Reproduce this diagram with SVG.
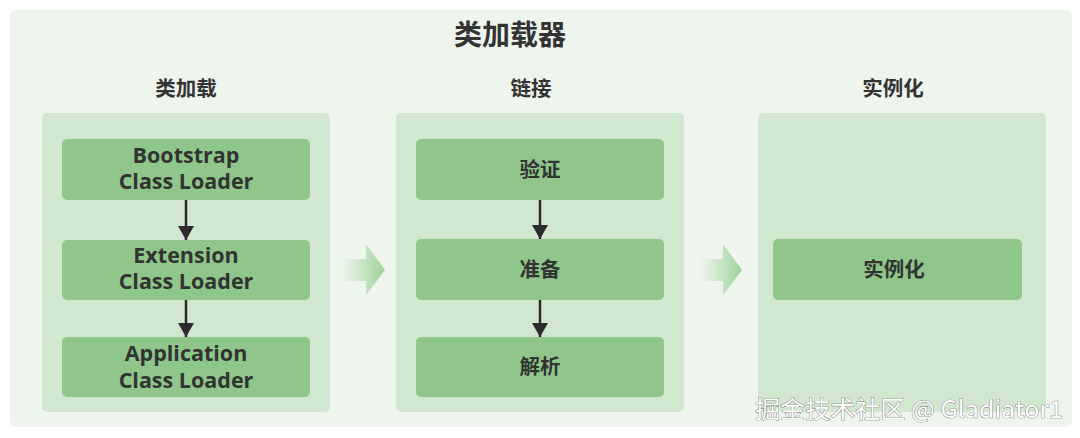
<svg xmlns="http://www.w3.org/2000/svg" width="1080" height="438" viewBox="0 0 1080 438">
  <defs>
    <linearGradient id="bigArrow" x1="0" y1="0" x2="1" y2="0">
      <stop offset="0" stop-color="#a8d5a4" stop-opacity="0"/>
      <stop offset="1" stop-color="#9fd09b" stop-opacity="1"/>
    </linearGradient>
    <marker id="ah" viewBox="0 0 14 16" refX="14" refY="8" markerWidth="14" markerHeight="16" markerUnits="userSpaceOnUse" orient="auto">
      <path d="M0,0 L14,8 L0,16 Z" fill="#2b2b2b"/>
    </marker>
    <style>
      .cjk { font-family: "Noto Sans CJK SC", "Noto Sans", sans-serif; font-weight: 700; fill: #333333; text-anchor: middle; }
      .lat { font-family: "Open Sans", "Noto Sans", "Noto Sans CJK SC", sans-serif; font-weight: 700; fill: #333333; text-anchor: middle; font-size: 21.5px; }
      .panel { fill: #d2e7cf; }
      .node { fill: #8fc78b; }
      .conn { stroke: #2b2b2b; stroke-width: 2.5; fill: none; }
      .wm { font-family: "Noto Sans CJK SC", "Noto Sans", sans-serif; font-size: 24px; fill: #ffffff; stroke: #5a5a5a; stroke-width: 0.7; paint-order: stroke; }
    </style>
  </defs>

  <rect x="0" y="0" width="1080" height="438" fill="#ffffff"/>
  <rect id="outer" x="10" y="10" width="1062" height="417" rx="6" fill="#edf5ec"/>

  <text class="cjk" x="510" y="45" font-size="28">类加载器</text>

  <g id="panel-load">
    <text class="cjk" x="186" y="96" font-size="20.5">类加载</text>
    <rect class="panel" x="42" y="113" width="288" height="299" rx="5"/>
  </g>
  <g id="panel-link">
    <text class="cjk" x="531" y="96" font-size="20.5">链接</text>
    <rect class="panel" x="396" y="113" width="288" height="299" rx="5"/>
  </g>
  <g id="panel-init">
    <text class="cjk" x="893" y="96" font-size="20.5">实例化</text>
    <rect class="panel" x="758" y="113" width="288" height="299" rx="5"/>
  </g>

  <g id="node-bootstrap">
    <rect class="node" x="62" y="139" width="248" height="61" rx="5"/>
    <text class="lat" x="186" y="163">Bootstrap</text>
    <text class="lat" x="186" y="189">Class Loader</text>
  </g>
  <g id="node-extension">
    <rect class="node" x="62" y="240" width="248" height="60" rx="5"/>
    <text class="lat" x="186" y="263">Extension</text>
    <text class="lat" x="186" y="289">Class Loader</text>
  </g>
  <g id="node-application">
    <rect class="node" x="62" y="337" width="248" height="60" rx="5"/>
    <text class="lat" x="186" y="361">Application</text>
    <text class="lat" x="186" y="388">Class Loader</text>
  </g>

  <g id="node-verify">
    <rect class="node" x="416" y="139" width="248" height="61" rx="5"/>
    <text class="cjk" x="540" y="177" font-size="20.5">验证</text>
  </g>
  <g id="node-prepare">
    <rect class="node" x="416" y="239" width="248" height="61" rx="5"/>
    <text class="cjk" x="540" y="277" font-size="20.5">准备</text>
  </g>
  <g id="node-resolve">
    <rect class="node" x="416" y="337" width="248" height="60" rx="5"/>
    <text class="cjk" x="540" y="374" font-size="20.5">解析</text>
  </g>

  <g id="node-instantiate">
    <rect class="node" x="773" y="239" width="249" height="61" rx="5"/>
    <text class="cjk" x="894" y="277" font-size="20.5">实例化</text>
  </g>

  <g id="connectors">
    <line class="conn" x1="186" y1="200" x2="186" y2="240" marker-end="url(#ah)"/>
    <line class="conn" x1="186" y1="300" x2="186" y2="337" marker-end="url(#ah)"/>
    <line class="conn" x1="540" y1="200" x2="540" y2="239" marker-end="url(#ah)"/>
    <line class="conn" x1="540" y1="300" x2="540" y2="337" marker-end="url(#ah)"/>
    <path d="M342,259 L366,259 L366,244 L385,270 L366,295 L366,281 L342,281 Z" fill="url(#bigArrow)"/>
    <path d="M700,259 L723,259 L723,244 L742,270 L723,295 L723,281 L700,281 Z" fill="url(#bigArrow)"/>
  </g>

  <text class="wm" x="755" y="418" textLength="308" lengthAdjust="spacingAndGlyphs">掘金技术社区 @ Gladiator1</text>
</svg>
